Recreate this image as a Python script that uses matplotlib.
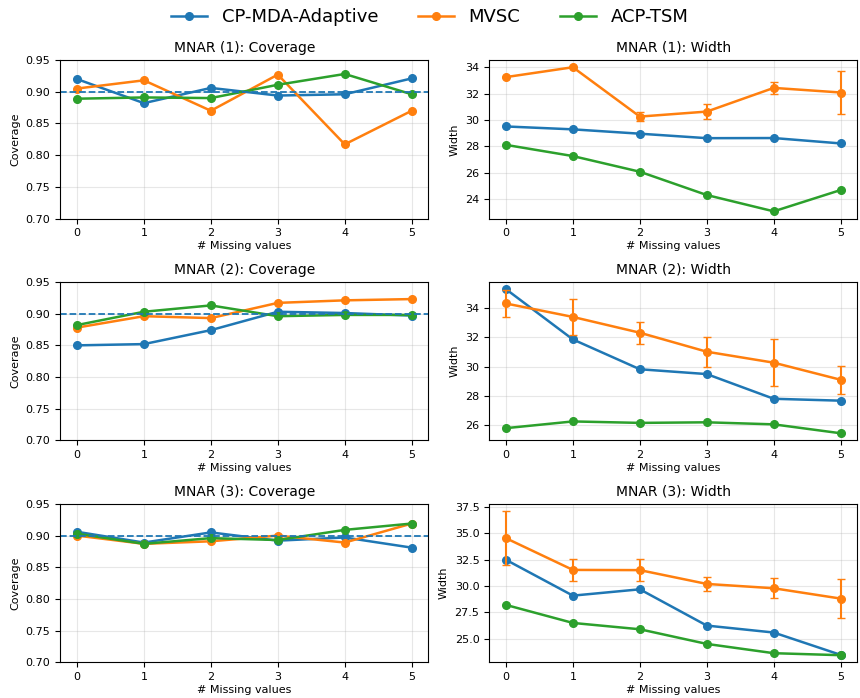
import numpy as np
import matplotlib.pyplot as plt

x = np.arange(6)
methods = ["CP-MDA-Adaptive", "MVSC", "ACP-TSM"]
colors = ["C0", "C1", "C2"]
scenarios = ["MNAR (1)", "MNAR (2)", "MNAR (3)"]

# coverage per scenario: [CP-MDA-Adaptive, MVSC, ACP-TSM]
cov_1 = [[0.920, 0.882, 0.906, 0.894, 0.896, 0.921],
         [0.905, 0.918, 0.870, 0.927, 0.817, 0.870],
         [0.889, 0.891, 0.890, 0.911, 0.928, 0.896]]
cov_2 = [[0.850, 0.852, 0.874, 0.903, 0.901, 0.897],
         [0.878, 0.896, 0.893, 0.917, 0.921, 0.923],
         [0.882, 0.903, 0.913, 0.896, 0.898, 0.898]]
cov_3 = [[0.906, 0.889, 0.905, 0.892, 0.897, 0.881],
         [0.900, 0.887, 0.891, 0.900, 0.889, 0.919],
         [0.903, 0.887, 0.896, 0.893, 0.909, 0.919]]

# width per scenario
wid_1 = [[29.50, 29.28, 28.95, 28.61, 28.62, 28.21],
         [33.25, 34.00, 30.25, 30.63, 32.43, 32.08],
         [28.10, 27.25, 26.06, 24.29, 23.05, 24.67]]
wid_2 = [[35.30, 31.86, 29.82, 29.49, 27.80, 27.67],
         [34.32, 33.40, 32.32, 31.02, 30.27, 29.10],
         [25.79, 26.25, 26.15, 26.19, 26.05, 25.44]]
wid_3 = [[32.48, 29.08, 29.68, 26.24, 25.58, 23.46],
         [34.53, 31.52, 31.50, 30.19, 29.78, 28.80],
         [28.20, 26.49, 25.89, 24.50, 23.62, 23.43]]

# MVSC width error bars
err_1 = [0.0, 0.0, 0.37, 0.58, 0.46, 1.62]
err_2 = [0.95, 1.25, 0.75, 1.02, 1.62, 0.96]
err_3 = [2.57, 1.02, 1.07, 0.63, 0.97, 1.87]

coverage = [cov_1, cov_2, cov_3]
width = [wid_1, wid_2, wid_3]
mvsc_err = [err_1, err_2, err_3]

fig, axes = plt.subplots(3, 2, figsize=(8.6, 6.98), dpi=100)
fig.subplots_adjust(left=0.07, right=0.997, top=0.914, bottom=0.051,
                    wspace=0.165, hspace=0.40)

for i, name in enumerate(scenarios):
    ax = axes[i, 0]
    for j, m in enumerate(methods):
        ax.plot(x, coverage[i][j], marker="o", color=colors[j], lw=1.8, ms=5.5, label=m)
    ax.axhline(0.9, color="C0", ls="--", lw=1.3)
    ax.set_ylim(0.70, 0.95)
    ax.set_title(f"{name}: Coverage", fontsize=10)
    ax.set_xlabel("# Missing values", fontsize=8, labelpad=2)
    ax.set_ylabel("Coverage", fontsize=8)
    ax.grid(alpha=0.3)
    ax.tick_params(labelsize=8)

    ax = axes[i, 1]
    for j, m in enumerate(methods):
        if m == "MVSC":
            ax.errorbar(x, width[i][j], yerr=mvsc_err[i], marker="o", color=colors[j],
                        lw=1.8, ms=5.5, capsize=3, elinewidth=1.5)
        else:
            ax.plot(x, width[i][j], marker="o", color=colors[j], lw=1.8, ms=5.5)
    ax.set_title(f"{name}: Width", fontsize=10)
    ax.set_xlabel("# Missing values", fontsize=8, labelpad=2)
    ax.set_ylabel("Width", fontsize=8)
    ax.grid(alpha=0.3)
    ax.tick_params(labelsize=8)

handles, labels = axes[0, 0].get_legend_handles_labels()
fig.legend(handles, labels, loc="upper center", ncol=3, frameon=False,
           fontsize=13, bbox_to_anchor=(0.5, 1.012), columnspacing=2.2)

plt.savefig("out.png")
